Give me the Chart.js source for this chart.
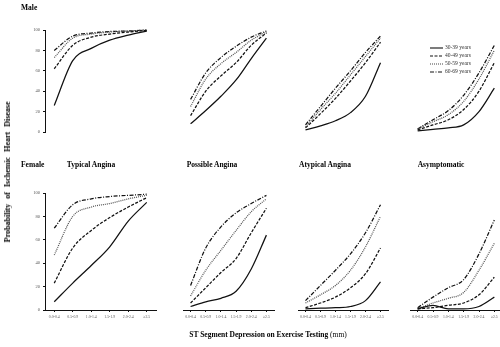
<!DOCTYPE html>
<html>
<head>
<meta charset="utf-8">
<script src="https://cdn.jsdelivr.net/npm/chart.js@4"></script>
<style>
  html, body { margin: 0; padding: 0; background: #fff; overflow: hidden; }
  #fig { position: relative; width: 500px; height: 347px; font-family: 'Liberation Serif', 'Times New Roman', serif; color: #000; }
  #fig canvas { position: absolute; }
  .lbl { position: absolute; font-weight: bold; font-size: 7.5px; white-space: nowrap; line-height: 1; color: #000; will-change: transform; }
  .ctr { transform: translateX(-50%); }
  #ylab { left: 8px; top: 172px; font-size: 8px; transform: translate(-50%, -50%) rotate(-90deg); word-spacing: 3px; }
</style>
</head>
<body>
<div id="fig">
  <div class="lbl" style="left:21px;top:4px">Male</div>
  <div class="lbl" style="left:21px;top:161px">Female</div>
  <div class="lbl ctr" style="left:91px;top:161px">Typical Angina</div>
  <div class="lbl ctr" style="left:212px;top:161px">Possible Angina</div>
  <div class="lbl ctr" style="left:325px;top:161px">Atypical Angina</div>
  <div class="lbl ctr" style="left:441px;top:161px">Asymptomatic</div>
  <div class="lbl" id="ylab">Probability of Ischemic Heart Disease</div>
  <div class="lbl ctr" style="left:268px;top:331px">ST Segment Depression on Exercise Testing <span style="font-weight:normal">(mm)</span></div>
</div>
<script>
const ageGroups = ['30-39 years', '40-49 years', '50-59 years', '60-69 years'];
const stBins = ['0.0-0.4', '0.5-0.9', '1.0-1.4', '1.5-1.9', '2.0-2.4', '\u22652.5'];
const yTicks = [0, 20, 40, 60, 80, 100];

// male, one row per age group (30-39, 40-49, 50-59, 60-69)
const maleTypical = [
  [26, 70, 82, 90, 95, 99],
  [62, 85, 93, 96, 98, 99.5],
  [73, 92, 96, 98, 99, 100],
  [80, 94, 97, 98.5, 99, 100]
];
const malePossible = [
  [8, 21, 35, 51, 72, 92],
  [16, 40, 55, 68, 85, 97],
  [25, 52, 67, 78, 90, 98],
  [32, 58, 73, 84, 93, 99]
];
const maleAtypical = [
  [2, 6, 11, 19, 35, 68],
  [4, 18, 33, 50, 68, 88],
  [5, 22, 38, 56, 74, 92],
  [7, 25, 43, 60, 78, 94]
];
const maleAsymptomatic = [
  [1, 2.5, 4, 7, 20, 43],
  [2, 7, 12, 22, 40, 68],
  [3, 10, 17, 30, 52, 80],
  [3, 12, 21, 36, 58, 85]
];

// female
const femaleTypical = [
  [7, 23, 38, 54, 76, 92],
  [23, 53, 68, 79, 88, 96],
  [47, 80, 88, 91, 95, 98],
  [70, 90, 95, 97, 98, 99]
];
const femalePossible = [
  [3, 7, 10, 16, 35, 64],
  [6, 19, 32, 44, 66, 87],
  [12, 34, 51, 68, 84, 95],
  [21, 53, 71, 83, 91, 98]
];
const femaleAtypical = [
  [1, 1.5, 2, 3, 8, 24],
  [2, 6, 11, 19, 31, 53],
  [6, 13, 21, 34, 54, 80],
  [8, 21, 34, 48, 66, 90]
];
const femaleAsymptomatic = [
  [1, 4, 1, 1, 3, 11],
  [1, 2, 4, 6, 13, 28],
  [1, 6, 10, 15, 34, 57],
  [2, 11, 19, 26, 48, 77]
];

const panels = [
  [maleTypical, malePossible, maleAtypical, maleAsymptomatic],
  [femaleTypical, femalePossible, femaleAtypical, femaleAsymptomatic]
];

// line look per age group
const lineStyles = [
  { color: '#111', dash: [] },
  { color: '#111', dash: [3, 1.5] },
  { color: '#555', dash: [1, 1] },
  { color: '#111', dash: [4, 1.5, 1, 1.5] }
];

const serif = "'Liberation Serif', 'Times New Roman', serif";
const cols = [[54, 147], [172, 265], [287, 379], [399, 493]];
const rows = [[30, 146], [193, 310]];
const M = 24, YW = 20, XH = 14;

const ageLegend = {
  id: 'ageLegend',
  afterDraw(chart) {
    const ctx = chart.ctx;
    const x = chart.chartArea.left + 20, y0 = chart.chartArea.top + 18;
    ctx.save();
    ctx.font = '5.5px ' + serif;
    ctx.textBaseline = 'middle';
    ageGroups.forEach((name, i) => {
      const y = y0 + i * 8;
      ctx.strokeStyle = lineStyles[i].color;
      ctx.lineWidth = 1.1;
      ctx.setLineDash(lineStyles[i].dash);
      ctx.beginPath();
      ctx.moveTo(x, y);
      ctx.lineTo(x + 13, y);
      ctx.stroke();
      ctx.setLineDash([]);
      ctx.fillStyle = '#333';
      ctx.fillText(name, x + 15, y);
    });
    ctx.restore();
  }
};

function makePanel(r, c) {
  const series = panels[r][c];
  const showY = c === 0, showX = r === 1;
  const step = (cols[c][1] - cols[c][0]) / 5;
  const left = cols[c][0] - step / 2, right = cols[c][1] + step / 2;
  const top = rows[r][0], bottom = rows[r][1];

  const canvas = document.createElement('canvas');
  const w = right - left + 2 * M, h = bottom - top + 8 + M;
  canvas.style.left = (left - M) + 'px';
  canvas.style.top = (top - 8) + 'px';
  canvas.style.width = w + 'px';
  canvas.style.height = h + 'px';
  canvas.width = w;
  canvas.height = h;
  document.getElementById('fig').appendChild(canvas);

  return new Chart(canvas.getContext('2d'), {
    type: 'line',
    data: {
      labels: stBins,
      datasets: series.map((vals, i) => ({
        label: ageGroups[i],
        data: vals,
        borderColor: lineStyles[i].color,
        borderDash: lineStyles[i].dash,
        borderWidth: 1.25,
        pointRadius: 0,
        fill: false,
        cubicInterpolationMode: 'monotone',
        clip: 6
      }))
    },
    options: {
      responsive: false,
      animation: false,
      layout: {
        padding: {
          left: M - (showY ? YW : 0),
          right: M,
          top: 8,
          bottom: M - (showX ? XH : 0)
        }
      },
      plugins: {
        legend: { display: false },
        tooltip: { enabled: false }
      },
      scales: {
        x: {
          display: showX,
          offset: true,
          grid: { offset: false, drawOnChartArea: false, tickLength: 2, color: '#111' },
          border: { color: '#111', width: 1 },
          ticks: {
            autoSkip: false,
            maxRotation: 0,
            padding: 3,
            color: '#555',
            font: { family: serif, size: 3.8 }
          },
          afterFit: s => { s.height = XH; }
        },
        y: {
          display: showY,
          min: 0,
          max: 100,
          afterBuildTicks: s => { s.ticks = yTicks.map(v => ({ value: v })); },
          grid: { drawOnChartArea: false, tickLength: 2, color: '#111' },
          border: { color: '#111', width: 1 },
          ticks: {
            padding: 3,
            color: '#555',
            font: { family: serif, size: 4.5 }
          },
          afterFit: s => { s.width = YW; }
        }
      }
    },
    plugins: (r === 0 && c === 3) ? [ageLegend] : []
  });
}

for (let r = 0; r < 2; r++) {
  for (let c = 0; c < 4; c++) makePanel(r, c);
}
</script>
</body>
</html>
